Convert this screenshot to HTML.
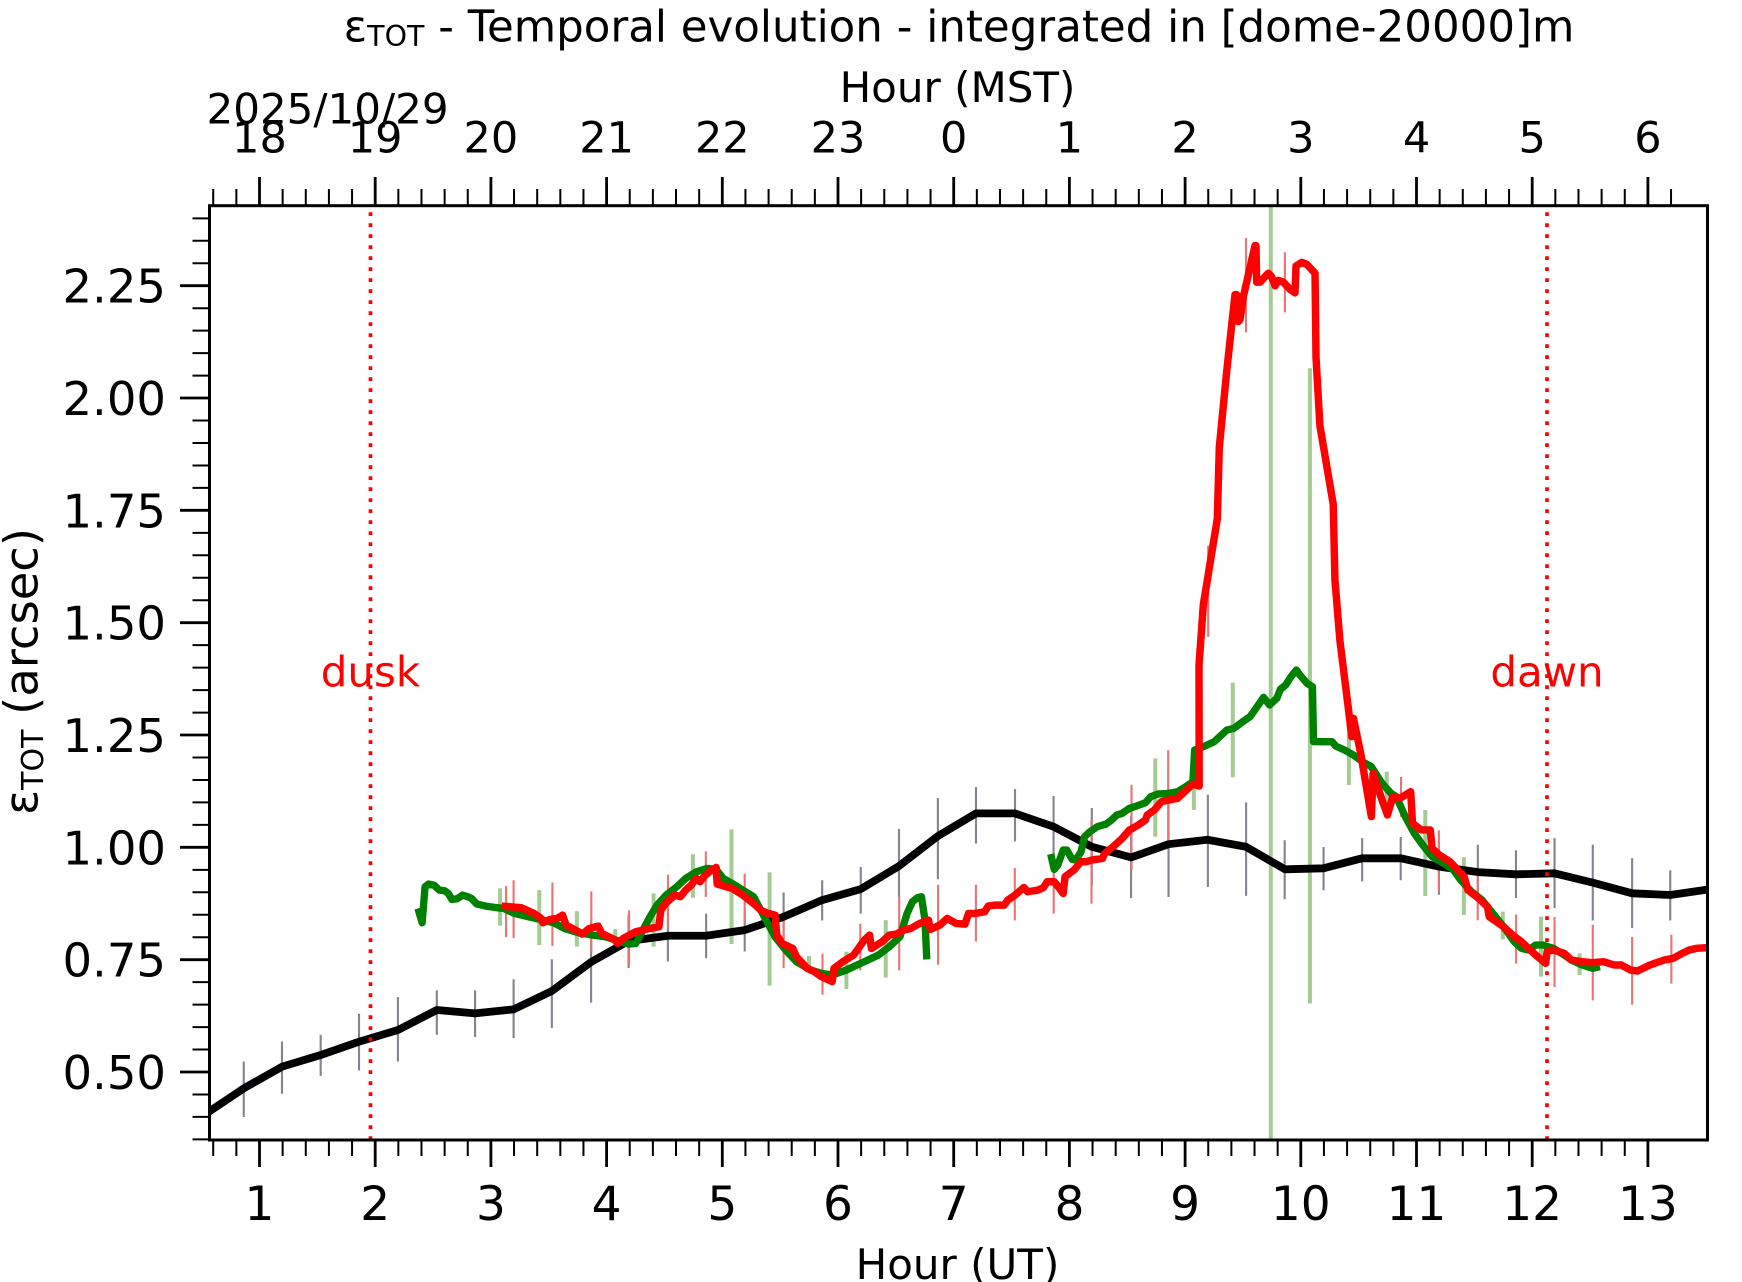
<!DOCTYPE html>
<html>
<head>
<meta charset="utf-8">
<style>
  html,body{margin:0;padding:0;background:#fff;}
  svg{display:block;}
  text{font-family:"DejaVu Sans","Liberation Sans",sans-serif;fill:#000;}
</style>
</head>
<body>
<svg width="1742" height="1282" viewBox="0 0 1742 1282" xmlns="http://www.w3.org/2000/svg">
  <rect x="0" y="0" width="1742" height="1282" fill="#fff"/>
  <defs>
    <clipPath id="plotclip">
      <rect x="209.5" y="206" width="1498" height="934"/>
    </clipPath>
  </defs>

  <!-- Title -->
  <text x="959" y="41.5" text-anchor="middle" font-size="43.5">ε<tspan font-size="28.5" dy="4.3">TOT</tspan><tspan dy="-4.3"> - Temporal evolution - integrated in [dome-20000]m</tspan></text>

  <!-- Top axis label -->
  <text x="957.5" y="102" text-anchor="middle" font-size="42">Hour (MST)</text>
  <text x="206.5" y="123.5" font-size="42">2025/10/29</text>

  <!-- Top tick labels -->
  <g font-size="43" text-anchor="middle">
    <text x="259.5" y="152.7">18</text>
    <text x="375.2" y="152.7">19</text>
    <text x="490.9" y="152.7">20</text>
    <text x="606.6" y="152.7">21</text>
    <text x="722.3" y="152.7">22</text>
    <text x="838.0" y="152.7">23</text>
    <text x="953.7" y="152.7">0</text>
    <text x="1069.4" y="152.7">1</text>
    <text x="1185.1" y="152.7">2</text>
    <text x="1300.8" y="152.7">3</text>
    <text x="1416.5" y="152.7">4</text>
    <text x="1532.2" y="152.7">5</text>
    <text x="1647.9" y="152.7">6</text>
  </g>

  <!-- Bottom tick labels -->
  <g font-size="47" text-anchor="middle">
    <text x="259.5" y="1220">1</text>
    <text x="375.2" y="1220">2</text>
    <text x="490.9" y="1220">3</text>
    <text x="606.6" y="1220">4</text>
    <text x="722.3" y="1220">5</text>
    <text x="838.0" y="1220">6</text>
    <text x="953.7" y="1220">7</text>
    <text x="1069.4" y="1220">8</text>
    <text x="1185.1" y="1220">9</text>
    <text x="1300.8" y="1220">10</text>
    <text x="1416.5" y="1220">11</text>
    <text x="1532.2" y="1220">12</text>
    <text x="1647.9" y="1220">13</text>
  </g>
  <text x="957.5" y="1279" text-anchor="middle" font-size="42">Hour (UT)</text>

  <!-- Y tick labels -->
  <g font-size="46.5" text-anchor="end">
    <text x="166" y="1089">0.50</text>
    <text x="166" y="976.7">0.75</text>
    <text x="166" y="864.3">1.00</text>
    <text x="166" y="752">1.25</text>
    <text x="166" y="639.7">1.50</text>
    <text x="166" y="527.3">1.75</text>
    <text x="166" y="415">2.00</text>
    <text x="166" y="302.7">2.25</text>
  </g>

  <!-- Y axis label -->
  <text transform="translate(37.5,671.5) rotate(-90)" text-anchor="middle" font-size="46.5">ε<tspan font-size="30" dy="5.5">TOT</tspan><tspan dy="-5.5"> (arcsec)</tspan></text>

  <!-- dusk / dawn labels -->
  <text x="370.5" y="686.7" text-anchor="middle" font-size="42" style="fill:#ff0000">dusk</text>
  <text x="1547" y="686.7" text-anchor="middle" font-size="42" style="fill:#ff0000">dawn</text>

  <!-- Data -->
  <g clip-path="url(#plotclip)">
    <g transform="scale(1.1115)" fill="none" stroke-linejoin="round">
      <!-- error bars -->
      <path stroke="#82848e" stroke-width="1.9" d="M219.3 955V1005 M253.7 937V984 M288.5 931V968 M323 912V963 M358 897V955 M393 891V931 M427.4 891V933 M462.1 881V934 M496.5 863V925 M531.8 829V902 M565.5 823V871 M600.9 819V865 M635.3 822V862 M670 817V856 M705 803V846 M739.7 792V828 M774.4 780V822 M808.8 746V807 M843.8 718V791 M878.1 708V759 M913.2 710V757 M947.9 716V770 M982.3 727V797 M1017.6 734V808 M1051.3 714V807 M1086.7 715V798 M1121.1 722V806 M1155.8 756V809 M1190.8 762V801 M1225.5 754V793 M1260.2 753V792 M1294.6 757V805 M1329.6 760V810 M1363.9 765V808 M1398.6 754V817 M1433 760V828 M1468.4 772V835 M1502.7 783V828"/>
      <path stroke="#a3cb93" stroke-width="3.6" d="M449.9 799.3V832.9 M485.2 800.8V850.2 M519 819.7V851.7 M553.6 835.9V850 M588 803.8V851.7 M623.4 768.4V807.7 M658.1 746.2V849.3 M692.4 784.9V886.8 M727.8 860.1V875 M761.5 856.3V889.8 M796.9 827.8V879.6 M1039.4 682.3V752.7 M1074.1 674.8V728.8 M1109.1 614.2V699.4 M1143.3 180V1030 M1178.5 331.3V902.7 M1213.6 660.2V706.3 M1247.6 694.3V736.2 M1282.3 728.8V806.1 M1317 771.3V823.2 M1352 820.2V845.1 M1386.4 824.7V878.7 M1421.1 857.7V877.2"/>
      <path stroke="#e87474" stroke-width="1.9" d="M455.3 797V843 M462.1 792V844 M497 794V851 M532 802V857 M566 819V868 M601 787V835 M635 766V807 M670 786V831 M705 826V871 M740 858V895 M774 831V873 M809 807V873 M844 796V868 M878 796V847 M913 781V828 M948 781V822 M982 738V813 M1018 706V783 M1051 675V757 M1087 491V573 M1121 214V299 M1156 227V281 M1260.5 699V735 M1294.5 747V802 M1329.5 786V828 M1364 823V867 M1398.6 825V888 M1433 832V900 M1468.4 843V904 M1503.7 841V885"/>

      <!-- black line -->
      <polyline stroke="#000" stroke-width="7" points="186,1001.5 219.3,979.2 253.7,959.7 288.5,949.2 323,937.2 358,926.7 393,908.7 427.4,911.7 462.1,908.1 496.5,891.6 531.8,865.5 565.5,846.6 600.9,841.9 635.3,841.9 670,836.8 705,824.8 739.7,809.8 774.4,799.9 808.8,779.2 843.8,752.2 878.1,731.8 913.2,731.8 947.9,743.8 982.3,761.8 1017.6,771.4 1051.3,759.5 1086.3,755.5 1120.9,761.8 1156,782.1 1190.6,781.2 1225.3,772.2 1260.4,772.2 1294.4,779.7 1329.6,784.6 1363.9,786.6 1398.6,785.7 1433,794.1 1468.4,803.7 1502.7,805.2 1540,799.8"/>

      <!-- green line -->
      <polyline stroke="#008000" stroke-width="6.6" points="376,817.3 379.8,830.2 382.4,797.8 385.6,795.4 390.4,796.3 395.2,800.8 400.1,801.4 403.3,803.8 406.5,809.2 411.3,808.6 416.1,805.3 420.9,806.8 424.2,808.3 429,813.4 437,815.2 445,816.4 453.1,817.3 462.7,821.8 475.6,824.8 488.4,827.8 498.1,830.2 507.7,835.3 520.5,839.2 533.4,841.3 544.6,842.8 555.9,846.4 565.5,849.4 572,848.8 578.4,836.8 584.8,824.8 591.2,814.3 599.3,805.3 608.9,797.8 616.9,790.3 626.6,784.3 636.2,781.3 644.3,782.2 650.7,790.3 658.7,794.8 668.3,800.8 678,806.8 682.8,815.8 689.2,827.8 697.3,842.8 706.9,854.8 716.5,865.2 729.4,872.7 739,875.7 748.7,877.2 761.5,872.7 777.6,865.2 790.4,859.2 800.1,851.7 809.7,842.8 816.1,821.8 820.9,811.3 825.8,807.4 829,806.8 832.2,827.8 833.8,863.2"/>
      <polyline stroke="#008000" stroke-width="6.6" points="945.3,768.4 948.5,782.2 951.7,778.3 956.5,764.8 959.8,764.8 964.6,773.2 967.8,773.8 972.6,766.3 975.8,752.8 980.6,748.3 987.1,743.8 995.1,741.4 1000,737.8 1004.7,733.3 1009.6,731.8 1016,727.3 1022.4,725.2 1030.5,722.2 1035.3,716.8 1041.7,714.4 1051.3,713.8 1059.4,712.3 1066.7,707.8 1073.2,703.3 1074.8,674.8 1082.8,671.8 1092.4,667.3 1103.7,656.8 1110.1,655.3 1118.1,649.3 1124.6,644.8 1131,635.8 1136.8,627.4 1142.2,634.3 1148.7,628.3 1151.9,620.2 1156.7,616.3 1161.5,608.8 1166.3,602.8 1169.5,607.3 1176,614.8 1180.8,617.8 1181.8,667.3 1198.5,667.3 1201.7,671.2 1209.7,674.8 1217.7,679.3 1225.8,685.3 1233.8,689.8 1243.4,704.8 1251.5,713.8 1256.3,716.8 1264.3,734.7 1272.4,749.7 1278.8,758.7 1288.4,770.7 1301.3,778.2 1307.7,782.7 1314.1,791.7 1323.8,802.2 1333.4,809.7 1343,821.7 1352.7,833.7 1362.3,847.2 1368.8,853.2 1375.2,854.7 1381.6,850.2 1388,850.2 1397.7,853.2 1407.3,859.2 1413.7,863.7 1423.4,868.2 1433,871.2 1439.4,869.7"/>

      <!-- red line -->
      <polyline stroke="#ff0000" stroke-width="6.7" points="451.5,815.2 469.1,816.7 480.4,821.8 486.8,826.3 488.4,830.2 494.8,827.2 501.3,826.3 506.1,823.3 509.3,832.3 520.6,838.3 523.8,840.4 530.2,835.3 538.2,833.2 541.4,839.8 552.7,845.2 555.9,848.8 560.7,844.3 572,838.3 584.8,835.3 592.8,833.8 594.5,818.8 599.3,812.2 607.3,805.3 612.1,806.8 616.9,800.8 621.8,796.3 626.6,790.3 629.8,793.3 634.6,787.3 639.4,783.4 644.3,780.4 645.2,795.4 658.7,799.3 668.3,805.3 679.6,814.3 684.4,818.8 690.8,821.8 697.3,823.3 698.9,841.3 703.7,848.8 713.3,853.3 716.5,860.8 726.2,871.2 732.6,874.2 739,878.7 748.7,883.2 750.3,871.2 758.3,865.2 768,859.2 777.6,845.8 782.4,841.3 784,853.3 793.6,847.3 800.1,841.3 806.5,840.4 812.9,836.8 819.4,835.3 827.4,830.8 835.4,827.8 837,836.2 843.5,833.2 845.7,832.3 852.1,826.3 860.2,830.8 868.2,831.4 871.4,821.8 877.8,821.8 885.9,820.3 889.1,815.2 895.5,814.3 903.5,814.3 906.7,809.8 913.2,805.3 921.2,798.4 924.4,802.3 934.1,800.8 938.9,798.4 942.1,793.3 948.5,793.3 953.3,799.3 956.5,803.8 958.2,788.8 966.2,782.8 972.6,775.3 977.4,775.3 982.3,773.8 991.9,772.3 993.5,768.4 1003.1,760.3 1009.6,754.3 1016,746.8 1024,742.3 1030.5,737.8 1032.1,733.3 1038.5,728.8 1044.9,721.3 1051.3,719.8 1059.4,718.3 1064.2,713.8 1070.6,707.8 1073.2,705.4 1078.9,707.2 1078.7,598.9 1082.6,544.1 1095.2,466.7 1097,402.2 1103.6,334.5 1111.1,265.1 1112.6,265.1 1114.1,289.3 1115.6,287.7 1118.6,266.8 1121.6,253.9 1129.1,221 1130,221 1130.6,253.9 1133.6,253.9 1141.1,245.8 1144.1,249 1147.1,257.1 1150.1,252.2 1154.6,253.9 1160.6,260.3 1165.1,263.5 1166,239.3 1171.1,236.1 1175.6,237.7 1183.1,245.8 1184,321.6 1187.5,382.9 1199.5,453.8 1201,521.5 1205.5,576.4 1212.9,635.8 1216.1,662.8 1217.7,646.3 1224.2,677.8 1233.8,734.7 1235.4,695.8 1243.4,719.8 1248.3,733.2 1253.1,716.8 1259.5,718.3 1269.2,712.3 1270.8,740.8 1278.8,746.7 1286.8,746.7 1288.4,763.2 1294.9,769.2 1304.5,775.2 1317.3,788.7 1320.6,800.7 1330.2,808.2 1338.2,815.7 1339.8,824.7 1352.7,833.7 1360.7,841.2 1368.8,847.2 1375.2,853.2 1381.6,859.2 1390.6,866.7 1391.9,856.2 1397.7,854.7 1407.3,857.7 1413.7,863.7 1423.4,865.2 1433,866.1 1442.6,865.2 1452.3,868.2 1458.7,868.2 1466.8,872.7 1473.2,873.6 1484.4,868.2 1497.3,863.7 1505.3,862.2 1513.4,857.7 1519.8,854.7 1526.2,853.2 1540,852.3"/>
    </g>
  </g>

  <!-- dusk / dawn dotted lines -->
  <line x1="370.5" y1="1140" x2="370.5" y2="206" stroke="#ff0000" stroke-width="3.7" stroke-dasharray="3.7 7.3"/>
  <line x1="1547" y1="1140" x2="1547" y2="206" stroke="#ff0000" stroke-width="3.7" stroke-dasharray="3.7 7.3"/>

  <!-- Axes frame -->
  <rect x="209.5" y="205.7" width="1498" height="934.3" fill="none" stroke="#000" stroke-width="3"/>

  <!-- Bottom ticks: minor (every 0.2h) -->
  <path stroke="#000" stroke-width="2" fill="none" d="M213.22,1140 v16 m23.14,-16 v16 m23.14,-16 v16 m23.14,-16 v16 m23.14,-16 v16 m23.14,-16 v16 m23.14,-16 v16 m23.14,-16 v16 m23.14,-16 v16 m23.14,-16 v16 m23.14,-16 v16 m23.14,-16 v16 m23.14,-16 v16 m23.14,-16 v16 m23.14,-16 v16 m23.14,-16 v16 m23.14,-16 v16 m23.14,-16 v16 m23.14,-16 v16 m23.14,-16 v16 m23.14,-16 v16 m23.14,-16 v16 m23.14,-16 v16 m23.14,-16 v16 m23.14,-16 v16 m23.14,-16 v16 m23.14,-16 v16 m23.14,-16 v16 m23.14,-16 v16 m23.14,-16 v16 m23.14,-16 v16 m23.14,-16 v16 m23.14,-16 v16 m23.14,-16 v16 m23.14,-16 v16 m23.14,-16 v16 m23.14,-16 v16 m23.14,-16 v16 m23.14,-16 v16 m23.14,-16 v16 m23.14,-16 v16 m23.14,-16 v16 m23.14,-16 v16 m23.14,-16 v16 m23.14,-16 v16 m23.14,-16 v16 m23.14,-16 v16 m23.14,-16 v16 m23.14,-16 v16 m23.14,-16 v16 m23.14,-16 v16 m23.14,-16 v16 m23.14,-16 v16 m23.14,-16 v16 m23.14,-16 v16 m23.14,-16 v16 m23.14,-16 v16 m23.14,-16 v16 m23.14,-16 v16 m23.14,-16 v16 m23.14,-16 v16 m23.14,-16 v16 m23.14,-16 v16"/>
  <!-- Top ticks: minor -->
  <path stroke="#000" stroke-width="2" fill="none" d="M213.22,205 v-16 m23.14,16 v-16 m23.14,16 v-16 m23.14,16 v-16 m23.14,16 v-16 m23.14,16 v-16 m23.14,16 v-16 m23.14,16 v-16 m23.14,16 v-16 m23.14,16 v-16 m23.14,16 v-16 m23.14,16 v-16 m23.14,16 v-16 m23.14,16 v-16 m23.14,16 v-16 m23.14,16 v-16 m23.14,16 v-16 m23.14,16 v-16 m23.14,16 v-16 m23.14,16 v-16 m23.14,16 v-16 m23.14,16 v-16 m23.14,16 v-16 m23.14,16 v-16 m23.14,16 v-16 m23.14,16 v-16 m23.14,16 v-16 m23.14,16 v-16 m23.14,16 v-16 m23.14,16 v-16 m23.14,16 v-16 m23.14,16 v-16 m23.14,16 v-16 m23.14,16 v-16 m23.14,16 v-16 m23.14,16 v-16 m23.14,16 v-16 m23.14,16 v-16 m23.14,16 v-16 m23.14,16 v-16 m23.14,16 v-16 m23.14,16 v-16 m23.14,16 v-16 m23.14,16 v-16 m23.14,16 v-16 m23.14,16 v-16 m23.14,16 v-16 m23.14,16 v-16 m23.14,16 v-16 m23.14,16 v-16 m23.14,16 v-16 m23.14,16 v-16 m23.14,16 v-16 m23.14,16 v-16 m23.14,16 v-16 m23.14,16 v-16 m23.14,16 v-16 m23.14,16 v-16 m23.14,16 v-16 m23.14,16 v-16 m23.14,16 v-16 m23.14,16 v-16 m23.14,16 v-16 m23.14,16 v-16"/>
  <!-- Major x ticks (top & bottom) -->
  <path stroke="#000" stroke-width="2.8" fill="none" d="M259.5,1140v27 M375.2,1140v27 M490.9,1140v27 M606.6,1140v27 M722.3,1140v27 M838,1140v27 M953.7,1140v27 M1069.4,1140v27 M1185.1,1140v27 M1300.8,1140v27 M1416.5,1140v27 M1532.2,1140v27 M1647.9,1140v27 M259.5,205v-28 M375.2,205v-28 M490.9,205v-28 M606.6,205v-28 M722.3,205v-28 M838,205v-28 M953.7,205v-28 M1069.4,205v-28 M1185.1,205v-28 M1300.8,205v-28 M1416.5,205v-28 M1532.2,205v-28 M1647.9,205v-28"/>
  <!-- Y minor ticks (every 0.05) -->
  <path stroke="#000" stroke-width="2" fill="none" d="M209.5,1139.4 h-17 m17,-22.465 h-17 m17,-22.465 h-17 m17,-22.465 h-17 m17,-22.465 h-17 m17,-22.465 h-17 m17,-22.465 h-17 m17,-22.465 h-17 m17,-22.465 h-17 m17,-22.465 h-17 m17,-22.465 h-17 m17,-22.465 h-17 m17,-22.465 h-17 m17,-22.465 h-17 m17,-22.465 h-17 m17,-22.465 h-17 m17,-22.465 h-17 m17,-22.465 h-17 m17,-22.465 h-17 m17,-22.465 h-17 m17,-22.465 h-17 m17,-22.465 h-17 m17,-22.465 h-17 m17,-22.465 h-17 m17,-22.465 h-17 m17,-22.465 h-17 m17,-22.465 h-17 m17,-22.465 h-17 m17,-22.465 h-17 m17,-22.465 h-17 m17,-22.465 h-17 m17,-22.465 h-17 m17,-22.465 h-17 m17,-22.465 h-17 m17,-22.465 h-17 m17,-22.465 h-17 m17,-22.465 h-17 m17,-22.465 h-17 m17,-22.465 h-17 m17,-22.465 h-17 m17,-22.465 h-17 m17,-22.465 h-17"/>
  <!-- Y major ticks -->
  <path stroke="#000" stroke-width="2.8" fill="none" d="M209.5,1072h-29.5 M209.5,959.7h-29.5 M209.5,847.3h-29.5 M209.5,735h-29.5 M209.5,622.7h-29.5 M209.5,510.3h-29.5 M209.5,398h-29.5 M209.5,285.7h-29.5"/>
</svg>
</body>
</html>
